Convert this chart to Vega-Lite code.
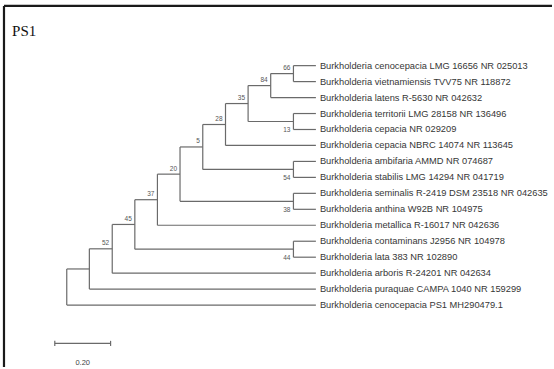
{
  "$schema": "https://vega.github.io/schema/vega-lite/v6.json",
  "width": 554,
  "height": 369,
  "padding": 0,
  "autosize": {"type": "fit", "contains": "padding"},
  "background": "white",
  "config": {"view": {"stroke": null}},
  "datasets": {
    "segs": [
      {"x": 0, "x2": 0, "y": 13.737, "y2": 16},
      {"x": 0.081, "x2": 0.081, "y": 12.475, "y2": 15},
      {"x": 0.163, "x2": 0.163, "y": 10.949, "y2": 14},
      {"x": 0.244, "x2": 0.244, "y": 9.398, "y2": 12.5},
      {"x": 0.325, "x2": 0.325, "y": 7.797, "y2": 11},
      {"x": 0.406, "x2": 0.406, "y": 6.094, "y2": 9.5},
      {"x": 0.4875, "x2": 0.4875, "y": 4.6875, "y2": 7.5},
      {"x": 0.569, "x2": 0.569, "y": 3.375, "y2": 6},
      {"x": 0.65, "x2": 0.65, "y": 2.25, "y2": 4.5},
      {"x": 0.731, "x2": 0.731, "y": 1.5, "y2": 3},
      {"x": 0.8125, "x2": 0.8125, "y": 1, "y2": 2},
      {"x": 0.8125, "x2": 0.8125, "y": 4, "y2": 5},
      {"x": 0.8125, "x2": 0.8125, "y": 7, "y2": 8},
      {"x": 0.8125, "x2": 0.8125, "y": 9, "y2": 10},
      {"x": 0.8125, "x2": 0.8125, "y": 12, "y2": 13},
      {"x": 0, "x2": 0.081, "y": 13.737, "y2": 13.737},
      {"x": 0.081, "x2": 0.163, "y": 12.475, "y2": 12.475},
      {"x": 0.163, "x2": 0.244, "y": 10.949, "y2": 10.949},
      {"x": 0.244, "x2": 0.325, "y": 9.398, "y2": 9.398},
      {"x": 0.325, "x2": 0.406, "y": 7.797, "y2": 7.797},
      {"x": 0.406, "x2": 0.4875, "y": 6.094, "y2": 6.094},
      {"x": 0.4875, "x2": 0.569, "y": 4.6875, "y2": 4.6875},
      {"x": 0.569, "x2": 0.65, "y": 3.375, "y2": 3.375},
      {"x": 0.65, "x2": 0.731, "y": 2.25, "y2": 2.25},
      {"x": 0.731, "x2": 0.8125, "y": 1.5, "y2": 1.5},
      {"x": 0.65, "x2": 0.8125, "y": 4.5, "y2": 4.5},
      {"x": 0.4875, "x2": 0.8125, "y": 7.5, "y2": 7.5},
      {"x": 0.406, "x2": 0.8125, "y": 9.5, "y2": 9.5},
      {"x": 0.244, "x2": 0.8125, "y": 12.5, "y2": 12.5},
      {"x": 0.8125, "x2": 0.893, "y": 1, "y2": 1},
      {"x": 0.8125, "x2": 0.893, "y": 2, "y2": 2},
      {"x": 0.731, "x2": 0.893, "y": 3, "y2": 3},
      {"x": 0.8125, "x2": 0.893, "y": 4, "y2": 4},
      {"x": 0.8125, "x2": 0.893, "y": 5, "y2": 5},
      {"x": 0.569, "x2": 0.893, "y": 6, "y2": 6},
      {"x": 0.8125, "x2": 0.893, "y": 7, "y2": 7},
      {"x": 0.8125, "x2": 0.893, "y": 8, "y2": 8},
      {"x": 0.8125, "x2": 0.893, "y": 9, "y2": 9},
      {"x": 0.8125, "x2": 0.893, "y": 10, "y2": 10},
      {"x": 0.325, "x2": 0.893, "y": 11, "y2": 11},
      {"x": 0.8125, "x2": 0.893, "y": 12, "y2": 12},
      {"x": 0.8125, "x2": 0.893, "y": 13, "y2": 13},
      {"x": 0.163, "x2": 0.893, "y": 14, "y2": 14},
      {"x": 0.081, "x2": 0.893, "y": 15, "y2": 15},
      {"x": 0, "x2": 0.893, "y": 16, "y2": 16}
    ],
    "leaves": [
      {"x": 0.893, "y": 1, "name": "Burkholderia cenocepacia LMG 16656 NR 025013"},
      {"x": 0.893, "y": 2, "name": "Burkholderia vietnamiensis TVV75 NR 118872"},
      {"x": 0.893, "y": 3, "name": "Burkholderia latens R-5630 NR 042632"},
      {"x": 0.893, "y": 4, "name": "Burkholderia territorii LMG 28158 NR 136496"},
      {"x": 0.893, "y": 5, "name": "Burkholderia cepacia NR 029209"},
      {"x": 0.893, "y": 6, "name": "Burkholderia cepacia NBRC 14074 NR 113645"},
      {"x": 0.893, "y": 7, "name": "Burkholderia ambifaria AMMD NR 074687"},
      {"x": 0.893, "y": 8, "name": "Burkholderia stabilis LMG 14294 NR 041719"},
      {"x": 0.893, "y": 9, "name": "Burkholderia seminalis R-2419 DSM 23518 NR 042635"},
      {"x": 0.893, "y": 10, "name": "Burkholderia anthina W92B NR 104975"},
      {"x": 0.893, "y": 11, "name": "Burkholderia metallica R-16017 NR 042636"},
      {"x": 0.893, "y": 12, "name": "Burkholderia contaminans J2956 NR 104978"},
      {"x": 0.893, "y": 13, "name": "Burkholderia lata 383 NR 102890"},
      {"x": 0.893, "y": 14, "name": "Burkholderia arboris R-24201 NR 042634"},
      {"x": 0.893, "y": 15, "name": "Burkholderia puraquae CAMPA 1040 NR 159299"},
      {"x": 0.893, "y": 16, "name": "Burkholderia cenocepacia PS1 MH290479.1"}
    ],
    "boot": [
      {"x": 0.8125, "y": 1.5, "b": "66", "side": "above"},
      {"x": 0.731, "y": 2.25, "b": "84", "side": "above"},
      {"x": 0.65, "y": 3.375, "b": "35", "side": "above"},
      {"x": 0.569, "y": 4.6875, "b": "28", "side": "above"},
      {"x": 0.4875, "y": 6.094, "b": "5", "side": "above"},
      {"x": 0.406, "y": 7.797, "b": "20", "side": "above"},
      {"x": 0.325, "y": 9.398, "b": "37", "side": "above"},
      {"x": 0.244, "y": 10.949, "b": "45", "side": "above"},
      {"x": 0.163, "y": 12.475, "b": "52", "side": "above"},
      {"x": 0.8125, "y": 4.5, "b": "13", "side": "below"},
      {"x": 0.8125, "y": 7.5, "b": "54", "side": "below"},
      {"x": 0.8125, "y": 9.5, "b": "38", "side": "below"},
      {"x": 0.8125, "y": 12.5, "b": "44", "side": "below"}
    ],
    "scalebar": [
      {"x": -0.0429, "x2": 0.1571, "y": 18.4, "y2": 18.4},
      {"x": -0.0429, "x2": -0.0429, "y": 18.24, "y2": 18.56},
      {"x": 0.1571, "x2": 0.1571, "y": 18.24, "y2": 18.56}
    ],
    "scalelabel": [{"x": 0.0571, "y": 19.62, "t": "0.20"}],
    "title": [{"x": -0.196, "y": -0.87, "t": "PS1"}],
    "frame": [
      {"x": -0.2250, "x2": -0.2250, "y": -2.74, "y2": 19.8785},
      {"x": -0.2250, "x2": 1.7393, "y": -2.74, "y2": -2.74}
    ]
  },
  "encoding": {
    "x": {"field": "x", "type": "quantitative", "axis": null,
          "scale": {"domain": [-0.23929, 1.73929], "nice": false, "zero": false}},
    "y": {"field": "y", "type": "quantitative", "axis": null,
          "scale": {"domain": [-3.1121, 19.8785], "nice": false, "zero": false, "reverse": true}}
  },
  "layer": [
    {
      "data": {"name": "frame"},
      "mark": {"type": "rule", "stroke": "#1a1a1a", "strokeWidth": 2.2},
      "encoding": {"x2": {"field": "x2"}, "y2": {"field": "y2"}}
    },
    {
      "data": {"name": "segs"},
      "mark": {"type": "rule", "stroke": "#6a6a6a", "strokeWidth": 1.2},
      "encoding": {"x2": {"field": "x2"}, "y2": {"field": "y2"}}
    },
    {
      "data": {"name": "leaves"},
      "mark": {"type": "text", "align": "left", "baseline": "middle", "dx": 4,
               "font": "Liberation Sans", "fontSize": 9.3, "fill": "#363636"},
      "encoding": {"text": {"field": "name"}}
    },
    {
      "data": {"name": "boot"},
      "transform": [{"filter": "datum.side === 'above'"}],
      "mark": {"type": "text", "align": "right", "baseline": "middle", "dx": -3, "dy": -5.5,
               "font": "Liberation Sans", "fontSize": 6.5, "fill": "#555555"},
      "encoding": {"text": {"field": "b"}}
    },
    {
      "data": {"name": "boot"},
      "transform": [{"filter": "datum.side === 'below'"}],
      "mark": {"type": "text", "align": "right", "baseline": "middle", "dx": -3, "dy": 8.5,
               "font": "Liberation Sans", "fontSize": 6.5, "fill": "#555555"},
      "encoding": {"text": {"field": "b"}}
    },
    {
      "data": {"name": "scalebar"},
      "mark": {"type": "rule", "stroke": "#6a6a6a", "strokeWidth": 1.2},
      "encoding": {"x2": {"field": "x2"}, "y2": {"field": "y2"}}
    },
    {
      "data": {"name": "scalelabel"},
      "mark": {"type": "text", "align": "center", "baseline": "middle",
               "font": "Liberation Sans", "fontSize": 7.5, "fill": "#444444"},
      "encoding": {"text": {"field": "t"}}
    },
    {
      "data": {"name": "title"},
      "mark": {"type": "text", "align": "left", "baseline": "alphabetic",
               "font": "Liberation Serif", "fontSize": 15, "fill": "#111111"},
      "encoding": {"text": {"field": "t"}}
    }
  ]
}
